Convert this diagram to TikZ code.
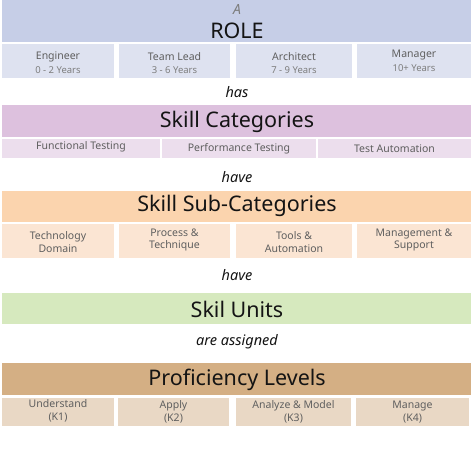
\documentclass[tikz,border=0pt]{standalone}
\usepackage{fontspec}
\setmainfont{Noto Sans}
\definecolor{rolebg}{RGB}{198,206,231}
\definecolor{rolebox}{RGB}{222,226,240}
\definecolor{catbg}{RGB}{221,193,222}
\definecolor{catbox}{RGB}{236,222,237}
\definecolor{subbg}{RGB}{251,212,174}
\definecolor{subbox}{RGB}{251,229,211}
\definecolor{unitbg}{RGB}{214,233,190}
\definecolor{profbg}{RGB}{212,175,132}
\definecolor{profbox}{RGB}{233,216,197}
\definecolor{boxtxt}{RGB}{95,95,95}
\definecolor{yeartxt}{RGB}{125,125,125}
\definecolor{titletxt}{RGB}{20,20,20}
\tikzset{
  bandbox/.style={draw=none, inner sep=0pt, minimum width=469pt},
  cell/.style={draw=none, inner sep=0pt},
  titletext/.style={text=titletxt, font=\fontsize{21.5}{24}\selectfont, inner sep=0pt},
  celltext/.style={text=boxtxt, font=\fontsize{10.5}{12.5}\selectfont, inner sep=0pt, align=center},
  yeartext/.style={text=yeartxt, font=\fontsize{9.5}{11}\selectfont, inner sep=0pt},
  verbtext/.style={text=titletxt, font=\fontsize{14.5}{17}\selectfont\itshape, inner sep=0pt},
}
\begin{document}
\begin{tikzpicture}[x=1pt,y=-1pt]
\useasboundingbox (0,0) rectangle (474,474);
\fill[white] (0,0) rectangle (474,474);
% ROLE
\node[bandbox, fill=rolebg, minimum height=42pt] (role) at (236.5,21) {};
\node[text=yeartxt, font=\fontsize{14}{16}\selectfont\itshape, inner sep=0pt] (a) at (237,10) {A};
\node[titletext] (roletxt) at (237,31) {ROLE};
\node[cell, fill=rolebox, minimum width=112pt, minimum height=34pt] (r1) at (58,61) {};
\node[cell, fill=rolebox, minimum width=111pt, minimum height=34pt] (r2) at (174.5,61) {};
\node[cell, fill=rolebox, minimum width=116pt, minimum height=34pt] (r3) at (294,61) {};
\node[cell, fill=rolebox, minimum width=114pt, minimum height=34pt] (r4) at (414,61) {};
\node[celltext] (r1a) at (58,57) {Engineer};
\node[yeartext] (r1b) at (58,70) {0 - 2 Years};
\node[celltext] (r2a) at (174.5,57) {Team Lead};
\node[yeartext] (r2b) at (174.5,70) {3 - 6 Years};
\node[celltext] (r3a) at (294,57) {Architect};
\node[yeartext] (r3b) at (294,70) {7 - 9 Years};
\node[celltext] (r4a) at (414,55) {Manager};
\node[yeartext] (r4b) at (414,68) {10+ Years};
\node[verbtext] (has) at (237,92) {has};
% Skill categories
\node[bandbox, fill=catbg, minimum height=32pt] (cat) at (236.5,121) {};
\node[titletext] (cattxt) at (237,122) {Skill Categories};
\node[cell, fill=catbox, minimum width=158pt, minimum height=19pt] (c1) at (81,148.5) {};
\node[cell, fill=catbox, minimum width=154pt, minimum height=19pt] (c2) at (239,148.5) {};
\node[cell, fill=catbox, minimum width=153pt, minimum height=19pt] (c3) at (394.5,148.5) {};
\node[celltext] (c1t) at (81,147) {Functional Testing};
\node[celltext] (c2t) at (239,149) {Performance Testing};
\node[celltext] (c3t) at (394.5,149) {Test Automation};
\node[verbtext] (have1) at (237,177) {have};
% Sub-categories
\node[bandbox, fill=subbg, minimum height=31pt] (sub) at (236.5,206.5) {};
\node[titletext] (subtxt) at (237,206) {Skill Sub-Categories};
\node[cell, fill=subbox, minimum width=112pt, minimum height=34pt] (s1) at (58,241) {};
\node[cell, fill=subbox, minimum width=111pt, minimum height=34pt] (s2) at (174.5,241) {};
\node[cell, fill=subbox, minimum width=116pt, minimum height=34pt] (s3) at (294,241) {};
\node[cell, fill=subbox, minimum width=114pt, minimum height=34pt] (s4) at (414,241) {};
\node[celltext] (s1t) at (58,242) {Technology\\Domain};
\node[celltext] (s2t) at (174.5,240) {Process \&\\Technique};
\node[celltext] (s3t) at (294,242) {Tools \&\\Automation};
\node[celltext] (s4t) at (414,240) {Management \&\\Support};
\node[verbtext] (have2) at (237,275) {have};
% Skill units
\node[bandbox, fill=unitbg, minimum height=31pt] (units) at (236.5,308.5) {};
\node[titletext] (unitstxt) at (237,309) {Skil Units};
\node[verbtext] (assigned) at (237,342) {are assigned};
% Proficiency
\node[bandbox, fill=profbg, minimum height=32pt] (prof) at (236.5,379) {};
\node[titletext] (proftxt) at (237,380) {Proficiency Levels};
\node[cell, fill=profbox, minimum width=112pt, minimum height=28pt] (p1) at (58,412) {};
\node[cell, fill=profbox, minimum width=111pt, minimum height=28pt] (p2) at (173.5,412) {};
\node[cell, fill=profbox, minimum width=115pt, minimum height=28pt] (p3) at (293.5,412) {};
\node[cell, fill=profbox, minimum width=113pt, minimum height=28pt] (p4) at (412.5,412) {};
\node[celltext] (p1t) at (58,411) {Understand\\(K1)};
\node[celltext] (p2t) at (173.5,412) {Apply\\(K2)};
\node[celltext] (p3t) at (293.5,412) {Analyze \& Model\\(K3)};
\node[celltext] (p4t) at (412.5,412) {Manage\\(K4)};
\end{tikzpicture}
\end{document}
